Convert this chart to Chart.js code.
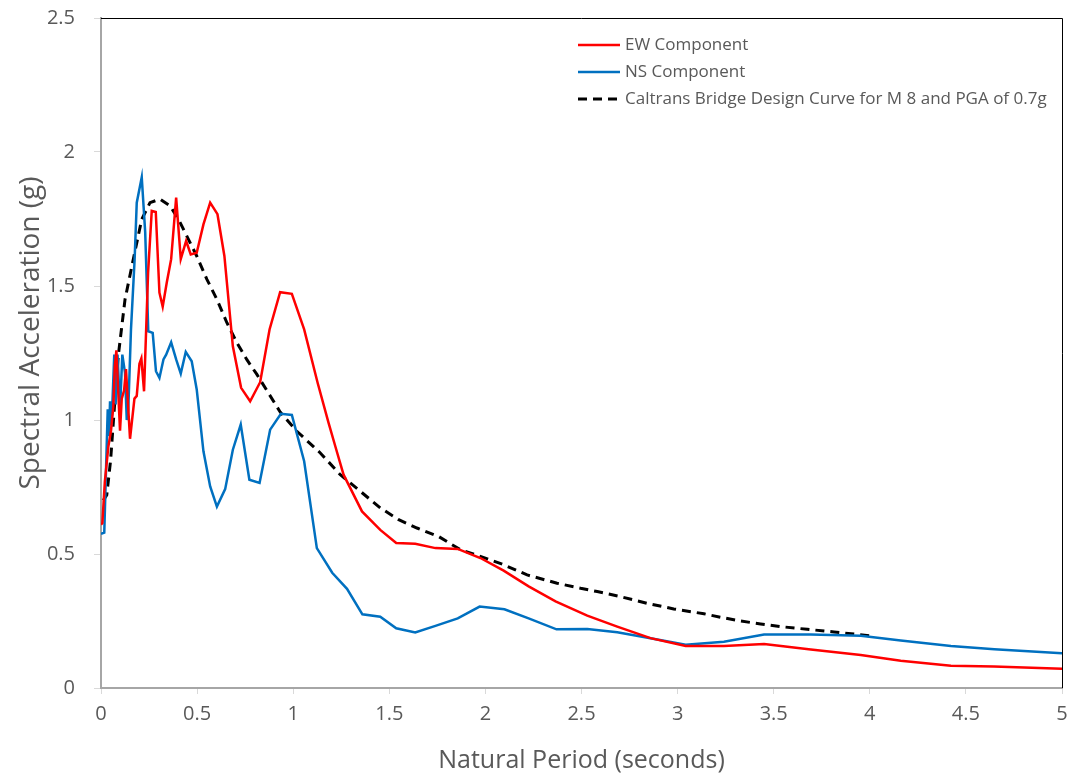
<!DOCTYPE html>
<html>
<head>
<meta charset="utf-8">
<script src="https://cdn.jsdelivr.net/npm/chart.js@4.4.0/dist/chart.umd.min.js"></script>
<style>
  html, body { margin: 0; padding: 0; background: #fff; }
  #wrap { width: 1072px; height: 778px; position: relative; }
</style>
</head>
<body>
<div id="wrap"><canvas id="chart"></canvas></div>
<script>
// EW component (red)
const ewPeriod = [0, 0.007, 0.02, 0.038, 0.052, 0.064, 0.072, 0.08, 0.09, 0.099, 0.108, 0.12, 0.13, 0.151, 0.174, 0.186, 0.2, 0.21, 0.224, 0.245, 0.264, 0.285, 0.304, 0.321, 0.342, 0.365, 0.391, 0.415, 0.443, 0.467, 0.498, 0.533, 0.568, 0.606, 0.642, 0.686, 0.729, 0.776, 0.828, 0.877, 0.932, 0.993, 1.057, 1.127, 1.184, 1.219, 1.262, 1.358, 1.453, 1.536, 1.635, 1.74, 1.856, 1.974, 2.095, 2.225, 2.365, 2.53, 2.686, 2.859, 3.042, 3.241, 3.45, 3.693, 3.953, 4.161, 4.422, 4.646, 5.0];
const ewAccel  = [0.61, 0.615, 0.77, 0.9, 0.96, 1.05, 1.2, 1.26, 1.1, 0.96, 1.08, 1.11, 1.19, 0.93, 1.08, 1.09, 1.21, 1.23, 1.107, 1.55, 1.78, 1.776, 1.475, 1.423, 1.512, 1.6, 1.83, 1.6, 1.668, 1.618, 1.624, 1.73, 1.811, 1.768, 1.612, 1.275, 1.12, 1.07, 1.141, 1.338, 1.477, 1.471, 1.338, 1.139, 0.989, 0.902, 0.796, 0.659, 0.59, 0.541, 0.538, 0.522, 0.519, 0.485, 0.438, 0.379, 0.323, 0.27, 0.229, 0.186, 0.157, 0.157, 0.164, 0.144, 0.123, 0.102, 0.083, 0.08, 0.072];

// NS component (blue)
const nsPeriod = [0, 0.017, 0.035, 0.042, 0.047, 0.055, 0.069, 0.076, 0.086, 0.099, 0.111, 0.125, 0.134, 0.142, 0.156, 0.175, 0.186, 0.212, 0.23, 0.246, 0.269, 0.286, 0.304, 0.325, 0.339, 0.365, 0.391, 0.415, 0.441, 0.472, 0.498, 0.533, 0.568, 0.603, 0.646, 0.686, 0.727, 0.772, 0.825, 0.88, 0.936, 0.993, 1.057, 1.123, 1.203, 1.28, 1.36, 1.453, 1.536, 1.635, 1.74, 1.856, 1.97, 2.099, 2.225, 2.37, 2.53, 2.686, 2.859, 3.042, 3.241, 3.45, 3.693, 3.953, 4.161, 4.422, 4.648, 5.0];
const nsAccel  = [0.575, 0.58, 1.04, 0.94, 1.07, 0.98, 1.244, 1.058, 1.244, 1.039, 1.244, 1.176, 1.0, 1.04, 1.338, 1.6, 1.811, 1.906, 1.7, 1.331, 1.325, 1.182, 1.157, 1.226, 1.244, 1.29, 1.226, 1.173, 1.254, 1.219, 1.114, 0.883, 0.752, 0.677, 0.742, 0.889, 0.983, 0.777, 0.765, 0.964, 1.023, 1.019, 0.846, 0.522, 0.43, 0.37, 0.275, 0.266, 0.223, 0.207, 0.232, 0.26, 0.304, 0.294, 0.26, 0.219, 0.22, 0.208, 0.186, 0.161, 0.173, 0.2, 0.2, 0.195, 0.177, 0.157, 0.145, 0.13];

// Caltrans design curve (black dashed)
const designPeriod = [0.012, 0.03, 0.05, 0.07, 0.09, 0.125, 0.168, 0.212, 0.255, 0.307, 0.359, 0.403, 0.446, 0.498, 0.551, 0.603, 0.655, 0.707, 0.759, 0.811, 0.863, 0.932, 1.019, 1.141, 1.245, 1.349, 1.453, 1.549, 1.644, 1.757, 1.87, 1.974, 2.095, 2.217, 2.373, 2.495, 2.582, 2.703, 2.842, 2.98, 3.137, 3.224, 3.328, 3.432, 3.536, 3.675, 3.814, 4.0];
const designAccel  = [0.7, 0.72, 0.85, 1.05, 1.24, 1.45, 1.6, 1.749, 1.811, 1.824, 1.799, 1.749, 1.687, 1.612, 1.525, 1.45, 1.363, 1.288, 1.225, 1.17, 1.11, 1.03, 0.958, 0.877, 0.796, 0.734, 0.672, 0.628, 0.597, 0.565, 0.516, 0.491, 0.46, 0.422, 0.391, 0.372, 0.36, 0.341, 0.316, 0.295, 0.277, 0.264, 0.25, 0.239, 0.229, 0.219, 0.209, 0.195];

const seriesLabels = ['EW Component', 'NS Component', 'Caltrans Bridge Design Curve for M 8 and PGA of 0.7g'];
const yTitle = 'Spectral Acceleration (g)';

const toPoints = (xs, ys) => xs.map((x, i) => ({ x: x, y: ys[i] }));
const fmtTick = (v) => String(Number(v.toFixed(1)));

const textColor = '#595959';
const axisColor = '#a6a6a6';
const fontFamily = '"Open Sans", "Noto Sans", sans-serif';

// legend inside the plot, y title, black frame on top/right
const legendBox = {
  id: 'legendBox',
  afterDraw(chart) {
    const ctx = chart.ctx;
    const area = chart.chartArea;
    ctx.save();
    ctx.strokeStyle = '#000';
    ctx.lineWidth = 1;
    ctx.beginPath();
    ctx.moveTo(area.left, area.top + 0.5);
    ctx.lineTo(area.right + 0.5, area.top + 0.5);
    ctx.lineTo(area.right + 0.5, area.bottom);
    ctx.stroke();

    ctx.font = '17px ' + fontFamily;
    ctx.fillStyle = textColor;
    ctx.textBaseline = 'middle';
    chart.data.datasets.forEach((ds, i) => {
      const y = 45 + i * 27;
      ctx.strokeStyle = ds.borderColor;
      ctx.lineWidth = ds.borderWidth;
      ctx.setLineDash(ds.borderDash || []);
      ctx.beginPath();
      ctx.moveTo(578, y);
      ctx.lineTo(620, y);
      ctx.stroke();
      ctx.fillText(ds.label, 625, y);
    });

    // rotated y axis title
    ctx.translate(31, 333);
    ctx.rotate(-Math.PI / 2);
    ctx.font = '28px ' + fontFamily;
    ctx.textAlign = 'center';
    ctx.fillText(yTitle, 0, 0);
    ctx.restore();
  }
};

new Chart(document.getElementById('chart'), {
  type: 'line',
  data: {
    datasets: [
      {
        label: seriesLabels[0],
        data: toPoints(ewPeriod, ewAccel),
        borderColor: '#ff0000',
        borderWidth: 2.5,
        pointRadius: 0,
        tension: 0
      },
      {
        label: seriesLabels[1],
        data: toPoints(nsPeriod, nsAccel),
        borderColor: '#0070c0',
        borderWidth: 2.5,
        pointRadius: 0,
        tension: 0
      },
      {
        label: seriesLabels[2],
        data: toPoints(designPeriod, designAccel),
        borderColor: '#000000',
        borderWidth: 3,
        borderDash: [9, 6],
        pointRadius: 0,
        tension: 0
      }
    ]
  },
  plugins: [legendBox],
  options: {
    responsive: true,
    maintainAspectRatio: false,
    animation: false,
    layout: { padding: { top: 18, right: 10, left: 0, bottom: 0 } },
    plugins: {
      legend: { display: false },
      tooltip: { enabled: false }
    },
    scales: {
      x: {
        type: 'linear',
        min: 0,
        max: 5,
        ticks: { stepSize: 0.5, callback: fmtTick, color: textColor, font: { family: fontFamily, size: 20 }, padding: 8 },
        grid: { display: true, drawOnChartArea: false, color: '#d9d9d9', tickLength: 6 },
        border: { color: axisColor, width: 2 },
        title: { display: true, text: 'Natural Period (seconds)', color: textColor, font: { family: fontFamily, size: 25 }, padding: { top: 4, bottom: 2 } },
        afterFit: (s) => { s.height = 90; s.paddingLeft = 0; s.paddingRight = 0; }
      },
      y: {
        min: 0,
        max: 2.5,
        ticks: { stepSize: 0.5, callback: fmtTick, color: textColor, font: { family: fontFamily, size: 20 }, padding: 19 },
        grid: { display: true, drawOnChartArea: false, color: '#d9d9d9', tickLength: 7 },
        border: { color: axisColor, width: 2 },
        title: { display: false },
        afterFit: (s) => { s.width = 101; s.paddingTop = 0; s.paddingBottom = 0; }
      }
    }
  }
});
</script>
</body>
</html>
